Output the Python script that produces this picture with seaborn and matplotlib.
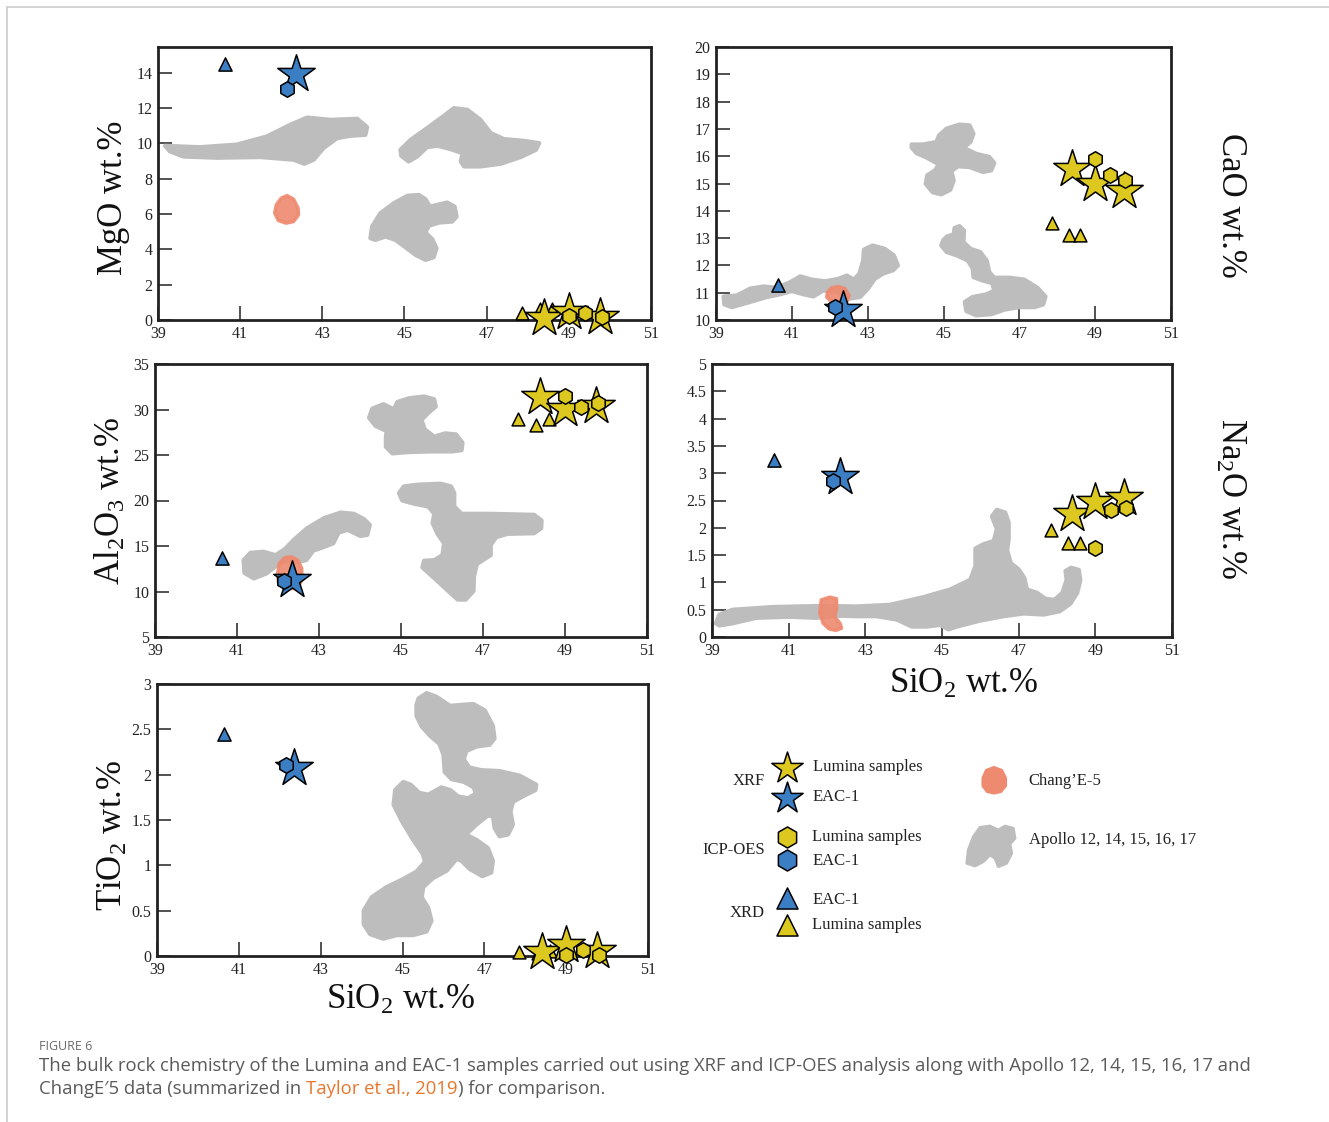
import numpy as np
import matplotlib
matplotlib.use("Agg")
import matplotlib.pyplot as plt
import seaborn as sns

# SiO2 (wt.%) of each sample group, shared by all panels
sio2_xrf_lumina = [48.4, 49.0, 49.75]
sio2_xrf_eac = [42.35]
sio2_icp_lumina = [49.0, 49.4, 49.8]
sio2_icp_eac = [42.15]
sio2_xrd_lumina = [47.85, 48.3, 48.6]
sio2_xrd_eac = [40.63]

# oxide values per group (same order as the SiO2 lists)
mgo = {"xrf_lumina": [0.1, 0.45, 0.15], "xrf_eac": [13.9],
       "icp_lumina": [0.2, 0.38, 0.18], "icp_eac": [13.1],
       "xrd_lumina": [0.38, 0.65, 0.6], "xrd_eac": [14.5]}
cao = {"xrf_lumina": [15.54, 14.97, 14.72], "xrf_eac": [10.38],
       "icp_lumina": [15.88, 15.3, 15.11], "icp_eac": [10.47],
       "xrd_lumina": [13.55, 13.1, 13.1], "xrd_eac": [11.29]}
al2o3 = {"xrf_lumina": [31.4, 30.1, 30.4], "xrf_eac": [11.24],
         "icp_lumina": [31.5, 30.3, 30.7], "icp_eac": [11.13],
         "xrd_lumina": [29.0, 28.3, 29.0], "xrd_eac": [13.64]}
na2o = {"xrf_lumina": [2.25, 2.48, 2.54], "xrf_eac": [2.93],
        "icp_lumina": [1.63, 2.33, 2.36], "icp_eac": [2.85],
        "xrd_lumina": [1.96, 1.72, 1.72], "xrd_eac": [3.24]}
tio2 = {"xrf_lumina": [0.04, 0.12, 0.06], "xrf_eac": [2.07],
        "icp_lumina": [0.01, 0.07, 0.01], "icp_eac": [2.11],
        "xrd_lumina": [0.04, 0.03, 0.06], "xrd_eac": [2.45]}

# Apollo 12-17 fields (outlines as SiO2, oxide)
apollo_mgo = [
    [(39.17, 9.86), (40.02, 9.78), (40.92, 9.93), (41.65, 10.39), (42.22, 11.05), (42.63, 11.46),
     (43.2, 11.33), (43.85, 11.39), (44.09, 10.92), (44.05, 10.48), (43.68, 10.42), (43.36, 10.29),
     (43.03, 9.73), (42.79, 9.07), (42.56, 8.84), (42.3, 9.07), (41.49, 9.22), (40.43, 9.18),
     (39.62, 9.25), (39.29, 9.54)],
    [(44.9, 9.63), (45.15, 10.2), (45.55, 10.86), (45.96, 11.56), (46.2, 11.99), (46.53, 11.9),
     (46.85, 11.33), (47.1, 10.58), (47.42, 10.24), (47.91, 10.14), (48.28, 10.01), (48.2, 9.63),
     (47.83, 9.22), (47.34, 8.84), (46.85, 8.69), (46.45, 8.69), (46.37, 8.97), (46.41, 9.44),
     (46.12, 9.67), (45.8, 9.86), (45.55, 9.78), (45.31, 9.25), (45.1, 8.97), (44.92, 9.29)],
    [(44.17, 4.63), (44.21, 5.29), (44.41, 6.04), (44.74, 6.61), (45.07, 7.03), (45.35, 7.08),
     (45.51, 6.84), (45.62, 6.42), (45.8, 6.52), (46.04, 6.65), (46.22, 6.42), (46.27, 5.85),
     (46.16, 5.57), (45.84, 5.51), (45.59, 5.33), (45.51, 4.95), (45.68, 4.57), (45.78, 4.06),
     (45.71, 3.55), (45.51, 3.4), (45.27, 3.68), (45.02, 4.12), (44.78, 4.53), (44.54, 4.72),
     (44.29, 4.53)],
]
apollo_cao = [
    [(39.2, 10.86), (39.55, 10.9), (39.9, 11.15), (40.25, 11.23), (40.61, 11.18), (40.96, 11.39),
     (41.22, 11.6), (41.53, 11.48), (41.88, 11.42), (42.23, 11.51), (42.45, 11.63), (42.64, 11.48),
     (42.78, 11.7), (42.88, 12.18), (42.9, 12.58), (43.13, 12.73), (43.45, 12.61), (43.69, 12.37),
     (43.8, 12.0), (43.67, 11.82), (43.41, 11.7), (43.19, 11.51), (43.01, 11.15), (42.8, 10.84),
     (42.51, 10.78), (42.18, 11.02), (41.83, 11.08), (41.57, 10.86), (41.31, 10.94), (41.0, 11.06),
     (40.69, 10.94), (40.34, 10.84), (39.9, 10.66), (39.42, 10.47), (39.22, 10.57)],
    [(44.16, 16.43), (44.46, 16.43), (44.81, 16.52), (44.88, 16.76), (45.08, 17.01), (45.42, 17.16),
     (45.69, 17.13), (45.79, 16.82), (45.71, 16.52), (45.53, 16.31), (45.86, 16.09), (46.21, 15.97),
     (46.34, 15.75), (46.26, 15.48), (46.04, 15.42), (45.69, 15.6), (45.38, 15.63), (45.21, 15.45),
     (45.27, 15.11), (45.18, 14.77), (44.94, 14.6), (44.71, 14.68), (44.53, 14.99), (44.57, 15.3),
     (44.77, 15.48), (44.88, 15.7), (44.55, 15.95), (44.29, 16.11), (44.16, 16.31)],
    [(44.99, 12.92), (45.09, 13.06), (45.27, 13.14), (45.29, 13.37), (45.42, 13.44), (45.54, 13.28),
     (45.53, 12.85), (45.71, 12.61), (45.97, 12.49), (46.14, 12.18), (46.21, 11.75), (46.34, 11.55),
     (46.74, 11.55), (47.13, 11.48), (47.48, 11.18), (47.69, 10.86), (47.63, 10.57), (47.4, 10.47),
     (47.0, 10.47), (46.61, 10.38), (46.26, 10.21), (45.86, 10.17), (45.6, 10.33), (45.56, 10.66),
     (45.76, 10.84), (46.13, 10.94), (46.34, 11.08), (46.28, 11.35), (46.02, 11.45), (45.79, 11.57),
     (45.77, 11.88), (45.64, 12.18), (45.34, 12.37), (45.08, 12.49), (44.94, 12.73)],
]
apollo_al2o3 = [
    [(44.22, 29.1), (44.3, 30.1), (44.57, 30.58), (44.83, 30.03), (44.91, 30.83), (45.2, 31.24),
     (45.56, 31.43), (45.81, 31.13), (45.85, 30.33), (45.66, 29.59), (45.5, 28.85), (45.58, 27.82),
     (45.81, 27.01), (46.07, 27.38), (46.34, 27.27), (46.5, 26.35), (46.48, 25.53), (46.26, 25.39),
     (45.73, 25.39), (45.16, 25.31), (44.79, 25.17), (44.63, 25.9), (44.63, 26.9), (44.65, 27.63),
     (44.38, 28.18)],
    [(44.95, 20.82), (45.07, 21.55), (45.4, 21.74), (45.97, 21.85), (46.22, 21.55), (46.3, 20.82),
     (46.3, 19.34), (46.48, 18.54), (47.19, 18.54), (48.25, 18.43), (48.43, 17.8), (48.42, 16.96),
     (48.25, 16.4), (47.6, 16.33), (47.32, 15.96), (47.19, 15.11), (47.19, 14.0), (47.03, 13.53),
     (46.85, 13.01), (46.78, 11.61), (46.77, 10.06), (46.58, 9.11), (46.38, 9.11), (46.15, 10.06),
     (45.82, 11.43), (45.52, 12.65), (45.56, 13.38), (45.81, 13.45), (46.01, 14.0), (46.05, 15.3),
     (45.89, 16.33), (45.77, 17.51), (45.81, 18.54), (45.66, 19.34), (45.32, 19.64), (45.03, 20.0)],
    [(41.16, 13.45), (41.33, 14.26), (41.65, 14.37), (41.94, 14.0), (42.16, 14.64), (42.4, 15.74),
     (42.71, 16.96), (43.12, 18.06), (43.53, 18.68), (43.85, 18.54), (44.1, 17.95), (44.24, 17.32),
     (44.18, 16.22), (44.01, 16.1), (43.7, 16.77), (43.48, 16.47), (43.35, 15.3), (43.1, 14.86),
     (42.86, 14.48), (42.69, 13.45), (42.47, 13.23), (42.22, 13.38), (41.98, 12.9), (41.72, 11.98),
     (41.41, 11.43), (41.18, 12.05)],
]
apollo_na2o = [
    [(39.1, 0.25), (39.19, 0.41), (39.54, 0.5), (40.59, 0.55), (41.9, 0.57), (42.77, 0.56),
     (43.64, 0.59), (44.51, 0.73), (45.21, 0.87), (45.74, 1.05), (45.87, 1.3), (45.87, 1.62),
     (46.08, 1.7), (46.35, 1.76), (46.43, 1.98), (46.3, 2.21), (46.43, 2.33), (46.65, 2.28),
     (46.74, 2.1), (46.74, 1.79), (46.7, 1.59), (46.8, 1.35), (47.0, 1.24), (47.15, 1.08),
     (47.22, 0.87), (47.48, 0.81), (47.7, 0.7), (47.93, 0.68), (48.14, 0.81), (48.25, 1.05),
     (48.22, 1.21), (48.37, 1.27), (48.57, 1.23), (48.61, 1.04), (48.53, 0.81), (48.35, 0.61),
     (48.07, 0.47), (47.65, 0.41), (47.13, 0.43), (46.61, 0.38), (46.0, 0.3), (45.39, 0.19),
     (45.17, 0.14), (44.95, 0.22), (44.6, 0.19), (44.21, 0.19), (43.82, 0.32), (43.29, 0.38),
     (42.77, 0.38), (42.25, 0.39), (41.72, 0.35), (41.02, 0.37), (40.15, 0.35), (39.54, 0.25),
     (39.19, 0.21)],
]
apollo_tio2 = [
    [(45.39, 2.84), (45.59, 2.9), (45.83, 2.86), (46.16, 2.76), (46.44, 2.77), (46.73, 2.78),
     (47.01, 2.71), (47.21, 2.54), (47.25, 2.4), (47.13, 2.33), (46.81, 2.31), (46.56, 2.26),
     (46.5, 2.17), (46.63, 2.08), (46.93, 2.05), (47.37, 2.04), (47.86, 1.99), (48.27, 1.89),
     (48.25, 1.83), (47.98, 1.77), (47.7, 1.7), (47.64, 1.59), (47.7, 1.45), (47.58, 1.34),
     (47.37, 1.32), (47.25, 1.41), (47.21, 1.54), (47.09, 1.55), (46.81, 1.45), (46.55, 1.34),
     (46.81, 1.28), (47.09, 1.19), (47.21, 1.05), (47.17, 0.92), (46.95, 0.88), (46.64, 0.96),
     (46.44, 1.05), (46.32, 1.07), (46.08, 0.94), (45.75, 0.86), (45.51, 0.76), (45.47, 0.65),
     (45.63, 0.53), (45.71, 0.39), (45.59, 0.27), (45.26, 0.23), (44.86, 0.23), (44.53, 0.19),
     (44.21, 0.24), (44.05, 0.35), (44.05, 0.5), (44.25, 0.65), (44.61, 0.76), (45.02, 0.85),
     (45.34, 0.93), (45.55, 1.04), (45.49, 1.13), (45.26, 1.28), (44.98, 1.49), (44.78, 1.67),
     (44.82, 1.83), (45.02, 1.92), (45.2, 1.89), (45.41, 1.8), (45.63, 1.78), (45.95, 1.86),
     (46.17, 1.83), (46.36, 1.76), (46.6, 1.74), (46.79, 1.79), (46.74, 1.86), (46.5, 1.92),
     (46.2, 1.95), (46.03, 2.03), (46.0, 2.22), (45.9, 2.34), (45.67, 2.43), (45.47, 2.53),
     (45.34, 2.65), (45.34, 2.77)],
]

# Chang'E-5 fields
change5_mgo = [(42.14, 7.04), (42.3, 6.84), (42.41, 6.33), (42.42, 5.95), (42.3, 5.57), (42.12, 5.48),
               (41.93, 5.63), (41.84, 6.05), (41.88, 6.52), (42.0, 6.9)]
change5_cao = [(41.94, 11.02), (42.05, 11.18), (42.23, 11.23), (42.4, 11.15), (42.51, 10.9),
               (42.46, 10.69), (42.27, 10.6), (42.05, 10.66), (41.92, 10.84)]
change5_al2o3 = [(41.99, 11.98), (42.03, 13.09), (42.16, 13.71), (42.32, 13.82), (42.48, 13.45),
                 (42.58, 12.54), (42.58, 11.24), (42.47, 10.33), (42.22, 10.33), (42.01, 10.94)]
change5_na2o = [(41.85, 0.68), (42.07, 0.73), (42.25, 0.7), (42.25, 0.5), (42.2, 0.37), (42.35, 0.24),
                (42.38, 0.16), (42.23, 0.12), (42.05, 0.15), (41.9, 0.25), (41.81, 0.44)]
change5_tio2 = []

GREY = "#bdbdbd"
SALMON = "#ee8a6f"
YELLOW = "#dcc81e"
BLUE = "#3b7ec3"
W, H = 1329, 1122

sns.set_style("white")
plt.rcParams["font.family"] = ["Liberation Serif", "DejaVu Serif"]
plt.rcParams["mathtext.fontset"] = "custom"
plt.rcParams["mathtext.rm"] = "Liberation Serif"
plt.rcParams["mathtext.it"] = "Liberation Serif:italic"

fig = plt.figure(figsize=(W / 100, H / 100), dpi=100)
fig.patch.set_facecolor("white")


def px_axes(left, top, right, bottom):
    return fig.add_axes([left / W, 1 - bottom / H, (right - left) / W, (bottom - top) / H])


def draw_panel(ax, apollo, change5, vals, ylim, yticks):
    for poly in apollo:
        xs, ys = zip(*poly)
        ax.fill(xs, ys, facecolor=GREY, edgecolor=GREY, lw=3, joinstyle="round", zorder=1)
    if change5:
        xs, ys = zip(*change5)
        ax.fill(xs, ys, facecolor=SALMON, edgecolor=SALMON, lw=2.5, joinstyle="round",
                alpha=0.9, zorder=2)
    kw = dict(edgecolor="black", linewidth=1.1, ax=ax, legend=False, clip_on=False)
    sns.scatterplot(x=sio2_xrd_lumina, y=vals["xrd_lumina"], marker="^", s=85, color=YELLOW, zorder=3, **kw)
    sns.scatterplot(x=sio2_xrd_eac, y=vals["xrd_eac"], marker="^", s=90, color=BLUE, zorder=3, **kw)
    sns.scatterplot(x=sio2_xrf_lumina, y=vals["xrf_lumina"], marker="*", s=800, color=YELLOW, zorder=4, **kw)
    sns.scatterplot(x=sio2_xrf_eac, y=vals["xrf_eac"], marker="*", s=800, color=BLUE, zorder=4, **kw)
    sns.scatterplot(x=sio2_icp_lumina, y=vals["icp_lumina"], marker="h", s=125, color=YELLOW, zorder=5, **kw)
    sns.scatterplot(x=sio2_icp_eac, y=vals["icp_eac"], marker="h", s=125, color=BLUE, zorder=5, **kw)

    ax.set_xlim(39, 51)
    ax.set_ylim(*ylim)
    ax.set_xticks(np.arange(39, 52, 2))
    ax.set_xticklabels([str(v) for v in range(39, 52, 2)])
    ax.set_yticks(yticks)
    ax.set_yticklabels([f"{v:g}" for v in yticks])
    ax.tick_params(direction="in", length=10, width=1.1, labelsize=11.5, pad=4,
                   colors="#222222", left=True, bottom=True)
    ax.set_xlabel("")
    ax.set_ylabel("")
    for sp in ax.spines.values():
        sp.set_visible(True)
        sp.set_linewidth(2.0)
        sp.set_color("#222222")
    ax.set_facecolor("none")


ax1 = px_axes(158, 47, 651, 320)
draw_panel(ax1, apollo_mgo, change5_mgo, mgo, (0, 15.45), np.arange(0, 15, 2))
ax2 = px_axes(716, 47, 1171, 320)
draw_panel(ax2, apollo_cao, change5_cao, cao, (10, 20), np.arange(10, 21, 1))
ax3 = px_axes(155, 364, 647, 637)
draw_panel(ax3, apollo_al2o3, change5_al2o3, al2o3, (5, 35), np.arange(5, 36, 5))
ax4 = px_axes(712, 364, 1172, 637)
draw_panel(ax4, apollo_na2o, change5_na2o, na2o, (0, 5), np.arange(0, 5.01, 0.5))
ax5 = px_axes(157, 684, 648, 956)
draw_panel(ax5, apollo_tio2, change5_tio2, tio2, (0, 3), np.arange(0, 3.01, 0.5))

# overlay in pixel units for labels, legend and caption
ov = fig.add_axes([0, 0, 1, 1], zorder=-1)
ov.set_xlim(0, W)
ov.set_ylim(H, 0)
ov.axis("off")

lab = dict(fontsize=25, ha="center", va="center", color="#111111")
ov.text(113, 198, "MgO wt.%", rotation=90, **lab)
ov.text(111, 501, r"Al$_2$O$_3$ wt.%", rotation=90, **lab)
ov.text(113, 835, r"TiO$_2$ wt.%", rotation=90, **lab)
ov.text(1230, 205, "CaO wt.%", rotation=-90, **lab)
ov.text(1230, 498, r"Na$_2$O wt.%", rotation=-90, **lab)
ov.text(964, 684, r"SiO$_2$ wt.%", **lab)
ov.text(401, 1000, r"SiO$_2$ wt.%", **lab)

# page frame
ov.plot([7, W], [7, 7], color="#cccccc", lw=1.2)
ov.plot([7, 7], [7, H], color="#cccccc", lw=1.2)

# legend
leg_txt = dict(fontsize=12, va="center", color="#222222")
ov.text(765, 781, "XRF", ha="right", **leg_txt)
ov.text(765, 850, "ICP-OES", ha="right", **leg_txt)
ov.text(765, 913, "XRD", ha="right", **leg_txt)
ov.scatter([787], [768], marker="*", s=560, c=YELLOW, edgecolors="black", linewidths=1.1)
ov.scatter([787], [798], marker="*", s=560, c=BLUE, edgecolors="black", linewidths=1.1)
ov.scatter([787], [837], marker="h", s=230, c=YELLOW, edgecolors="black", linewidths=1.1)
ov.scatter([787], [860], marker="h", s=230, c=BLUE, edgecolors="black", linewidths=1.1)
ov.scatter([787], [898], marker="^", s=230, c=BLUE, edgecolors="black", linewidths=1.1)
ov.scatter([787], [925], marker="^", s=230, c=YELLOW, edgecolors="black", linewidths=1.1)
ov.text(813, 767, "Lumina samples", ha="left", **leg_txt)
ov.text(813, 797, "EAC-1", ha="left", **leg_txt)
ov.text(812, 837, "Lumina samples", ha="left", **leg_txt)
ov.text(813, 861, "EAC-1", ha="left", **leg_txt)
ov.text(813, 900, "EAC-1", ha="left", **leg_txt)
ov.text(812, 925, "Lumina samples", ha="left", **leg_txt)

drop = [(994, 767), (1002, 770), (1006, 778), (1006, 786), (1001, 792), (994, 793.5),
        (987, 792), (982.5, 786), (982.5, 778), (986, 770)]
ov.fill(*zip(*drop), facecolor=SALMON, edgecolor=SALMON, lw=1.5, joinstyle="round")
blob = [(966.7, 863.3), (968.3, 850), (973.3, 836.7), (980, 827.3), (990, 826), (998.3, 830),
        (1005, 826), (1013.3, 828.3), (1015, 838.3), (1010, 844), (1011.7, 853.3), (1006.7, 863.3),
        (998.3, 866.7), (995, 858.3), (990, 855), (983.3, 861.7), (975, 866)]
ov.fill(*zip(*blob), facecolor=GREY, edgecolor=GREY, lw=2, joinstyle="round")
ov.text(1028, 781, "Chang\u2019E-5", ha="left", **leg_txt)
ov.text(1029, 840, "Apollo 12, 14, 15, 16, 17", ha="left", **leg_txt)

# caption
cap = dict(family=["Open Sans", "DejaVu Sans"], va="center", ha="left")
ov.text(39, 1047, "FIGURE 6", fontsize=9, color="#6a6a6a", **cap)
ov.text(39, 1066, "The bulk rock chemistry of the Lumina and EAC-1 samples carried out using XRF and "
        "ICP-OES analysis along with Apollo 12, 14, 15, 16, 17 and",
        fontsize=13.3, color="#5a5a5a", **cap)
renderer = fig.canvas.get_renderer()
x0 = 39
for piece, col in [("ChangE\u20325 data (summarized in ", "#5a5a5a"),
                   ("Taylor et al., 2019", "#e8772e"),
                   (") for comparison.", "#5a5a5a")]:
    t = ov.text(x0, 1089, piece, fontsize=13.3, color=col, **cap)
    bb = t.get_window_extent(renderer)
    x0 = x0 + bb.width * W / fig.bbox.width

fig.savefig("out.png", dpi=100)
